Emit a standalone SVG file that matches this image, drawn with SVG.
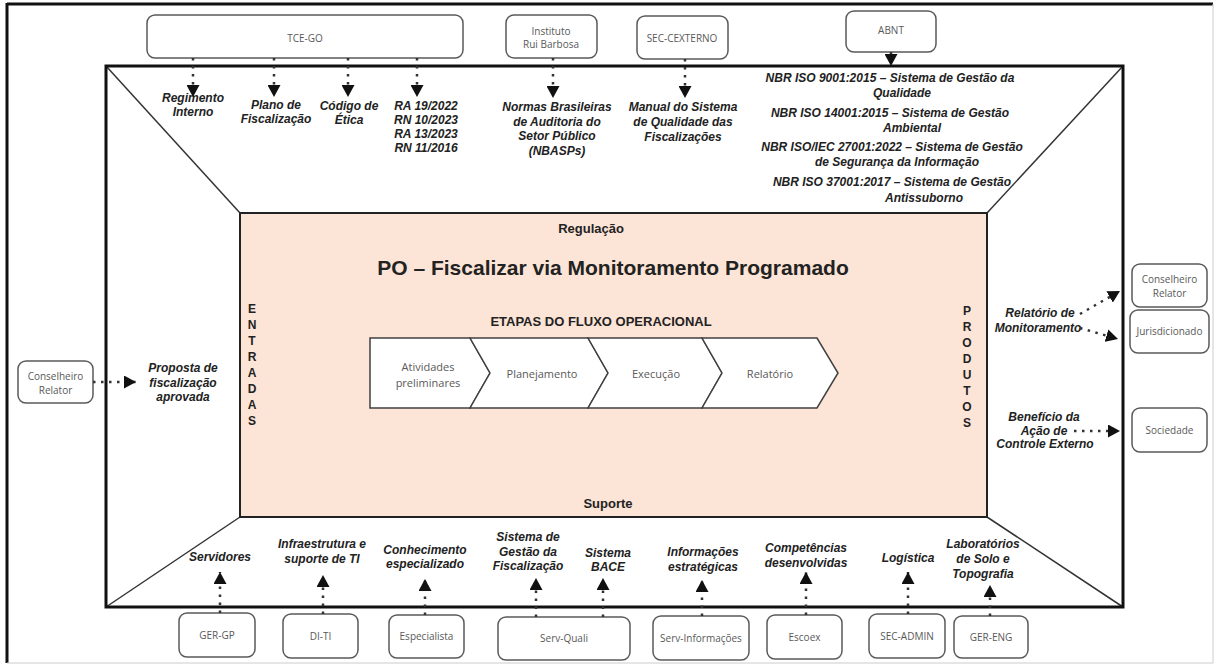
<svg xmlns="http://www.w3.org/2000/svg" width="1216" height="665" viewBox="0 0 1216 665">
<defs>
<marker id="ah" markerUnits="userSpaceOnUse" markerWidth="13" markerHeight="13" refX="12" refY="6.5" orient="auto" viewBox="0 0 13 13">
<path d="M0,0 L12,6.5 L0,13 Z" fill="#111"/>
</marker>
<style>
.box{fill:#fff;stroke:#5a5a5a;stroke-width:1.5}
.nt{font-family:"Open Sans","Liberation Sans",sans-serif;font-size:10px;fill:#595959;text-anchor:middle}
.lbl{font-family:"Liberation Sans",Arial,sans-serif;font-size:12px;font-weight:bold;font-style:italic;fill:#222;text-anchor:middle}
.hd{font-family:"Liberation Sans",Arial,sans-serif;font-weight:bold;fill:#222;text-anchor:middle}
.st{font-family:"Open Sans","Liberation Sans",sans-serif;font-size:11px;fill:#595959;text-anchor:middle}
.conn line{stroke:#333;stroke-width:2.5;stroke-dasharray:2.5 5.5;marker-end:url(#ah)}
.chev{fill:#fff;stroke:#404040;stroke-width:1.5}
</style>
</defs>
<rect x="0" y="0" width="1216" height="665" fill="#fff"/>
<g id="outer-frame">
<line x1="7" y1="4" x2="1213" y2="4" stroke="#111" stroke-width="3"/>
<line x1="7" y1="3" x2="7" y2="663" stroke="#111" stroke-width="3"/>
<line x1="7" y1="663" x2="1213" y2="663" stroke="#ccc" stroke-width="1"/>
<line x1="1213" y1="4" x2="1213" y2="663" stroke="#ccc" stroke-width="1"/>
</g>
<g id="main-frame">
<line x1="106" y1="66" x2="240" y2="213" stroke="#333" stroke-width="1.5"/>
<line x1="1123" y1="66" x2="987" y2="213" stroke="#333" stroke-width="1.5"/>
<line x1="106" y1="607" x2="240" y2="517" stroke="#333" stroke-width="1.5"/>
<line x1="1123" y1="607" x2="987" y2="517" stroke="#333" stroke-width="1.5"/>
<rect x="106" y="66" width="1017" height="541" fill="none" stroke="#111" stroke-width="3"/>
</g>
<g id="process">
<rect x="240" y="213" width="747" height="304" fill="#fce4d6" stroke="#222" stroke-width="2"/>
<text class="hd" x="591" y="232.5" font-size="13">Regulação</text>
<text class="hd" x="613" y="274.5" font-size="21">PO – Fiscalizar via Monitoramento Programado</text>
<text class="hd" x="601" y="325.5" font-size="13">ETAPAS DO FLUXO OPERACIONAL</text>
<text class="hd" x="608" y="507.5" font-size="13">Suporte</text>
<text class="hd" font-size="12" x="252" y="312.5">E<tspan x="252" dy="16">N</tspan><tspan x="252" dy="16">T</tspan><tspan x="252" dy="16">R</tspan><tspan x="252" dy="16">A</tspan><tspan x="252" dy="16">D</tspan><tspan x="252" dy="16">A</tspan><tspan x="252" dy="16">S</tspan></text>
<text class="hd" font-size="12" x="967" y="314.5">P<tspan x="967" dy="16">R</tspan><tspan x="967" dy="16">O</tspan><tspan x="967" dy="16">D</tspan><tspan x="967" dy="16">U</tspan><tspan x="967" dy="16">T</tspan><tspan x="967" dy="16">O</tspan><tspan x="967" dy="16">S</tspan></text>
</g>
<g id="etapa-atividades">
<polygon class="chev" points="370,338 470,338 490,373 470,408 370,408"/>
<text class="st" x="428" y="371">Atividades</text>
<text class="st" x="428" y="387">preliminares</text>
</g>
<g id="etapa-planejamento">
<polygon class="chev" points="470,338 588,338 608,373 588,408 470,408 490,373"/>
<text class="st" x="542" y="378">Planejamento</text>
</g>
<g id="etapa-execucao">
<polygon class="chev" points="588,338 702,338 722,373 702,408 588,408 608,373"/>
<text class="st" x="656" y="378">Execução</text>
</g>
<g id="etapa-relatorio">
<polygon class="chev" points="702,338 817,338 838,373 817,408 702,408 722,373"/>
<text class="st" x="770" y="378">Relatório</text>
</g>
<g id="tce-go"><rect class="box" x="147" y="15" width="316" height="43" rx="8"/><text class="nt" x="305" y="41.5">TCE-GO</text></g>
<g id="irb"><rect class="box" x="506" y="15" width="91" height="43" rx="8"/><text class="nt" x="551" y="34.5">Instituto</text><text class="nt" x="551" y="47.5">Rui Barbosa</text></g>
<g id="sec-cexterno"><rect class="box" x="637" y="16" width="91" height="43" rx="8"/><text class="nt" x="682" y="42">SEC-CEXTERNO</text></g>
<g id="abnt"><rect class="box" x="846" y="11" width="90" height="41" rx="8"/><text class="nt" x="891" y="34">ABNT</text></g>
<g id="conselheiro-entrada"><rect class="box" x="18" y="361" width="75" height="42" rx="8"/><text class="nt" x="55.5" y="379.5">Conselheiro</text><text class="nt" x="55.5" y="393.5">Relator</text></g>
<g id="conselheiro-saida"><rect class="box" x="1132" y="264" width="75" height="43" rx="8"/><text class="nt" x="1169.5" y="282.5">Conselheiro</text><text class="nt" x="1169.5" y="296.5">Relator</text></g>
<g id="jurisdicionado"><rect class="box" x="1130" y="310" width="79" height="43" rx="8"/><text class="nt" x="1169.5" y="335">Jurisdicionado</text></g>
<g id="sociedade"><rect class="box" x="1132" y="408" width="75" height="44" rx="8"/><text class="nt" x="1169.5" y="434">Sociedade</text></g>
<g id="ger-gp"><rect class="box" x="179" y="613" width="76" height="44" rx="8"/><text class="nt" x="217" y="638.5">GER-GP</text></g>
<g id="di-ti"><rect class="box" x="283" y="614" width="75" height="44" rx="8"/><text class="nt" x="320.5" y="639.5">DI-TI</text></g>
<g id="especialista"><rect class="box" x="389" y="615" width="75" height="43" rx="8"/><text class="nt" x="426.5" y="640">Especialista</text></g>
<g id="serv-quali"><rect class="box" x="498" y="617" width="132" height="43" rx="8"/><text class="nt" x="564" y="642">Serv-Quali</text></g>
<g id="serv-informacoes"><rect class="box" x="653" y="616" width="96" height="44" rx="8"/><text class="nt" x="701" y="641.5">Serv-Informações</text></g>
<g id="escoex"><rect class="box" x="767" y="615" width="75" height="44" rx="8"/><text class="nt" x="804.5" y="640.5">Escoex</text></g>
<g id="sec-admin"><rect class="box" x="869" y="614" width="76" height="44" rx="8"/><text class="nt" x="907" y="639.5">SEC-ADMIN</text></g>
<g id="ger-eng"><rect class="box" x="954" y="616" width="74" height="42" rx="8"/><text class="nt" x="991" y="640.5">GER-ENG</text></g>
<g id="labels-top">
<text class="lbl" x="193" y="102.3">Regimento</text><text class="lbl" x="193" y="116.3">Interno</text>
<text class="lbl" x="276" y="109.3">Plano de</text><text class="lbl" x="276" y="123.3">Fiscalização</text>
<text class="lbl" x="349" y="110.3">Código de</text><text class="lbl" x="349" y="124.3">Ética</text>
<text class="lbl" x="426" y="110.3">RA 19/2022</text><text class="lbl" x="426" y="124.3">RN 10/2023</text><text class="lbl" x="426" y="138.3">RA 13/2023</text><text class="lbl" x="426" y="152.3">RN 11/2016</text>
<text class="lbl" x="557" y="111.3">Normas Brasileiras</text><text class="lbl" x="557" y="125.8">de Auditoria do</text><text class="lbl" x="557" y="140.3">Setor Público</text><text class="lbl" x="557" y="154.8">(NBASPs)</text>
<text class="lbl" x="683" y="111.3">Manual do Sistema</text><text class="lbl" x="683" y="126.3">de Qualidade das</text><text class="lbl" x="683" y="141.3">Fiscalizações</text>
<text class="lbl" x="890" y="82.3">NBR ISO 9001:2015 – Sistema de Gestão da</text><text class="lbl" x="902" y="97.3">Qualidade</text>
<text class="lbl" x="890" y="117.3">NBR ISO 14001:2015 – Sistema de Gestão</text><text class="lbl" x="912" y="132.3">Ambiental</text>
<text class="lbl" x="892" y="151.3">NBR ISO/IEC 27001:2022 – Sistema de Gestão</text><text class="lbl" x="897" y="166.3">de Segurança da Informação</text>
<text class="lbl" x="892" y="186.3">NBR ISO 37001:2017 – Sistema de Gestão</text><text class="lbl" x="924" y="202.3">Antissuborno</text>
</g>
<g id="labels-side">
<text class="lbl" x="183" y="372.3">Proposta de</text><text class="lbl" x="183" y="387.3">fiscalização</text><text class="lbl" x="183" y="401.3">aprovada</text>
<text class="lbl" x="1040" y="317.3">Relatório de</text><text class="lbl" x="1038" y="332.3">Monitoramento</text>
<text class="lbl" x="1044" y="421.3">Benefício da</text><text class="lbl" x="1044" y="435.3">Ação de</text><text class="lbl" x="1045" y="448.3">Controle Externo</text>
</g>
<g id="labels-bottom">
<text class="lbl" x="220" y="561.3">Servidores</text>
<text class="lbl" x="322" y="548.3">Infraestrutura e</text><text class="lbl" x="322" y="563.3">suporte de TI</text>
<text class="lbl" x="425" y="554.3">Conhecimento</text><text class="lbl" x="425" y="568.3">especializado</text>
<text class="lbl" x="528" y="541.3">Sistema de</text><text class="lbl" x="528" y="556.3">Gestão da</text><text class="lbl" x="528" y="570.3">Fiscalização</text>
<text class="lbl" x="608" y="557.3">Sistema</text><text class="lbl" x="608" y="571.3">BACE</text>
<text class="lbl" x="703" y="556.3">Informações</text><text class="lbl" x="703" y="571.3">estratégicas</text>
<text class="lbl" x="806" y="552.3">Competências</text><text class="lbl" x="806" y="567.3">desenvolvidas</text>
<text class="lbl" x="908" y="562.3">Logística</text>
<text class="lbl" x="983" y="548.3">Laboratórios</text><text class="lbl" x="983" y="563.3">de Solo e</text><text class="lbl" x="983" y="578.3">Topografia</text>
</g>
<g id="connectors" class="conn">
<line x1="193" y1="58" x2="193" y2="97"/>
<line x1="274" y1="58" x2="274" y2="97"/>
<line x1="348" y1="58" x2="348" y2="97"/>
<line x1="417" y1="58" x2="417" y2="97"/>
<line x1="553" y1="58" x2="553" y2="98"/>
<line x1="685" y1="59" x2="685" y2="98"/>
<line x1="891" y1="52" x2="891" y2="66"/>
<line x1="93" y1="382" x2="136" y2="382"/>
<line x1="1080" y1="314" x2="1120" y2="291"/>
<line x1="1080" y1="328" x2="1118" y2="339"/>
<line x1="1074" y1="431" x2="1120" y2="431"/>
<line x1="220" y1="613" x2="220" y2="572"/>
<line x1="323" y1="614" x2="323" y2="575"/>
<line x1="425" y1="615" x2="425" y2="579"/>
<line x1="536" y1="617" x2="536" y2="578"/>
<line x1="603" y1="617" x2="603" y2="578"/>
<line x1="702" y1="616" x2="702" y2="580"/>
<line x1="806" y1="615" x2="806" y2="572"/>
<line x1="908" y1="614" x2="908" y2="572"/>
<line x1="990" y1="616" x2="990" y2="585"/>
</g>
</svg>
